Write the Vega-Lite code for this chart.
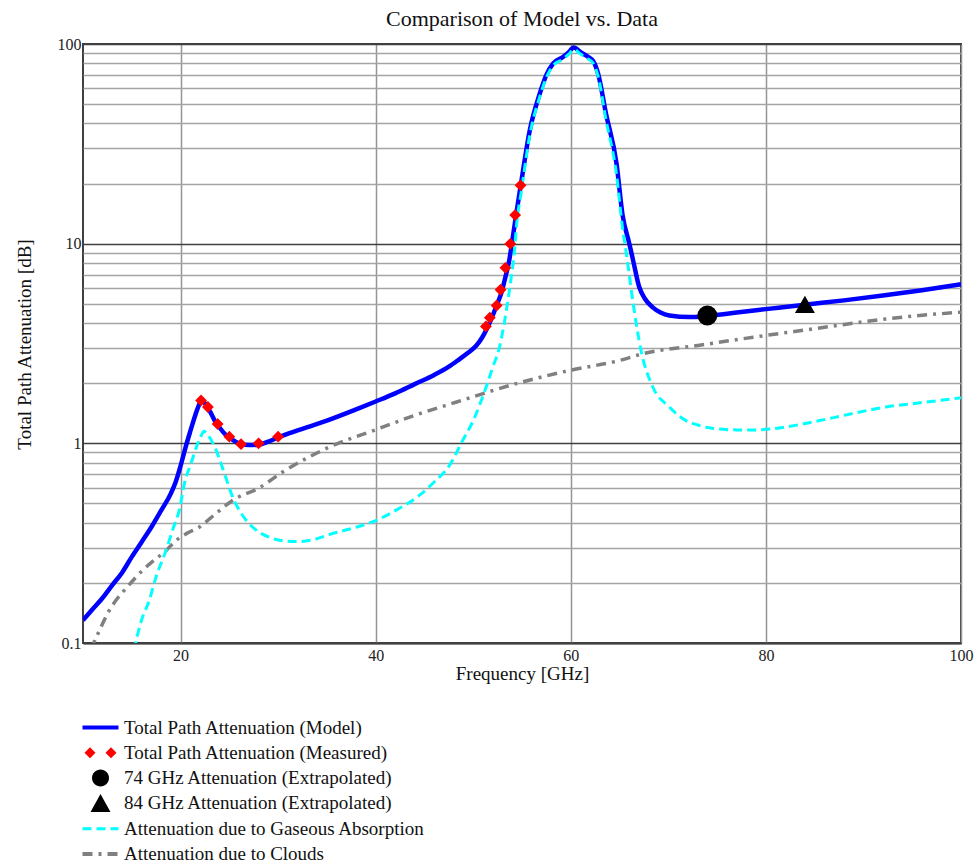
{
  "$schema": "https://vega.github.io/schema/vega-lite/v6.json",
  "width": 878,
  "height": 599,
  "autosize": {"type": "none"},
  "padding": {"left": 83, "top": 44, "right": 17, "bottom": 222},
  "background": "white",
  "title": {"text": "Comparison of Model vs. Data", "font": "Liberation Serif", "fontSize": 22, "fontWeight": "normal", "color": "#111111", "anchor": "middle", "frame": "group", "baseline": "bottom", "offset": 8, "dy": 25},
  "config": {
    "view": {"stroke": "#404040", "strokeWidth": 2},
    "axis": {"labelFont": "Liberation Serif", "labelFontSize": 16, "labelColor": "#222222", "titleFont": "Liberation Serif", "titleFontSize": 19, "titleFontWeight": "normal", "titleColor": "#111111", "ticks": false}
  },
  "data": {"values": [
    {"series": "Total Path Attenuation (Model)", "freq": 10, "atten": 0.13},
    {"series": "Total Path Attenuation (Model)", "freq": 11, "atten": 0.148},
    {"series": "Total Path Attenuation (Model)", "freq": 12, "atten": 0.168},
    {"series": "Total Path Attenuation (Model)", "freq": 13, "atten": 0.195},
    {"series": "Total Path Attenuation (Model)", "freq": 14, "atten": 0.225},
    {"series": "Total Path Attenuation (Model)", "freq": 15, "atten": 0.27},
    {"series": "Total Path Attenuation (Model)", "freq": 16, "atten": 0.32},
    {"series": "Total Path Attenuation (Model)", "freq": 17, "atten": 0.38},
    {"series": "Total Path Attenuation (Model)", "freq": 18, "atten": 0.46},
    {"series": "Total Path Attenuation (Model)", "freq": 19, "atten": 0.56},
    {"series": "Total Path Attenuation (Model)", "freq": 19.5, "atten": 0.64},
    {"series": "Total Path Attenuation (Model)", "freq": 20, "atten": 0.77},
    {"series": "Total Path Attenuation (Model)", "freq": 20.5, "atten": 0.95},
    {"series": "Total Path Attenuation (Model)", "freq": 21, "atten": 1.15},
    {"series": "Total Path Attenuation (Model)", "freq": 21.5, "atten": 1.38},
    {"series": "Total Path Attenuation (Model)", "freq": 22, "atten": 1.6},
    {"series": "Total Path Attenuation (Model)", "freq": 22.2, "atten": 1.65},
    {"series": "Total Path Attenuation (Model)", "freq": 22.6, "atten": 1.56},
    {"series": "Total Path Attenuation (Model)", "freq": 23, "atten": 1.45},
    {"series": "Total Path Attenuation (Model)", "freq": 23.5, "atten": 1.3},
    {"series": "Total Path Attenuation (Model)", "freq": 24, "atten": 1.2},
    {"series": "Total Path Attenuation (Model)", "freq": 24.5, "atten": 1.12},
    {"series": "Total Path Attenuation (Model)", "freq": 25, "atten": 1.07},
    {"series": "Total Path Attenuation (Model)", "freq": 26, "atten": 1.0},
    {"series": "Total Path Attenuation (Model)", "freq": 27, "atten": 0.98},
    {"series": "Total Path Attenuation (Model)", "freq": 28, "atten": 0.985},
    {"series": "Total Path Attenuation (Model)", "freq": 29, "atten": 1.02},
    {"series": "Total Path Attenuation (Model)", "freq": 30, "atten": 1.07},
    {"series": "Total Path Attenuation (Model)", "freq": 32, "atten": 1.16},
    {"series": "Total Path Attenuation (Model)", "freq": 35, "atten": 1.3},
    {"series": "Total Path Attenuation (Model)", "freq": 38, "atten": 1.48},
    {"series": "Total Path Attenuation (Model)", "freq": 40, "atten": 1.62},
    {"series": "Total Path Attenuation (Model)", "freq": 42, "atten": 1.78},
    {"series": "Total Path Attenuation (Model)", "freq": 44, "atten": 1.98},
    {"series": "Total Path Attenuation (Model)", "freq": 46, "atten": 2.2},
    {"series": "Total Path Attenuation (Model)", "freq": 47.5, "atten": 2.42},
    {"series": "Total Path Attenuation (Model)", "freq": 48.5, "atten": 2.62},
    {"series": "Total Path Attenuation (Model)", "freq": 49.5, "atten": 2.85},
    {"series": "Total Path Attenuation (Model)", "freq": 50.3, "atten": 3.08},
    {"series": "Total Path Attenuation (Model)", "freq": 50.9, "atten": 3.38},
    {"series": "Total Path Attenuation (Model)", "freq": 51.4, "atten": 3.75},
    {"series": "Total Path Attenuation (Model)", "freq": 51.9, "atten": 4.25},
    {"series": "Total Path Attenuation (Model)", "freq": 52.4, "atten": 4.9},
    {"series": "Total Path Attenuation (Model)", "freq": 52.9, "atten": 5.7},
    {"series": "Total Path Attenuation (Model)", "freq": 53.3, "atten": 6.8},
    {"series": "Total Path Attenuation (Model)", "freq": 53.7, "atten": 8.3},
    {"series": "Total Path Attenuation (Model)", "freq": 54.0, "atten": 10.3},
    {"series": "Total Path Attenuation (Model)", "freq": 54.4, "atten": 14},
    {"series": "Total Path Attenuation (Model)", "freq": 54.9, "atten": 20},
    {"series": "Total Path Attenuation (Model)", "freq": 55.8, "atten": 37},
    {"series": "Total Path Attenuation (Model)", "freq": 56.8, "atten": 56},
    {"series": "Total Path Attenuation (Model)", "freq": 57.5, "atten": 70},
    {"series": "Total Path Attenuation (Model)", "freq": 58.2, "atten": 80},
    {"series": "Total Path Attenuation (Model)", "freq": 59.2, "atten": 86},
    {"series": "Total Path Attenuation (Model)", "freq": 59.8, "atten": 91},
    {"series": "Total Path Attenuation (Model)", "freq": 60.3, "atten": 96},
    {"series": "Total Path Attenuation (Model)", "freq": 61, "atten": 91},
    {"series": "Total Path Attenuation (Model)", "freq": 61.8, "atten": 86},
    {"series": "Total Path Attenuation (Model)", "freq": 62.3, "atten": 82},
    {"series": "Total Path Attenuation (Model)", "freq": 62.8, "atten": 71},
    {"series": "Total Path Attenuation (Model)", "freq": 63.6, "atten": 45},
    {"series": "Total Path Attenuation (Model)", "freq": 64.7, "atten": 25},
    {"series": "Total Path Attenuation (Model)", "freq": 65.3, "atten": 14},
    {"series": "Total Path Attenuation (Model)", "freq": 66.0, "atten": 10},
    {"series": "Total Path Attenuation (Model)", "freq": 66.4, "atten": 8.2},
    {"series": "Total Path Attenuation (Model)", "freq": 67.0, "atten": 6.1},
    {"series": "Total Path Attenuation (Model)", "freq": 67.6, "atten": 5.3},
    {"series": "Total Path Attenuation (Model)", "freq": 68.4, "atten": 4.8},
    {"series": "Total Path Attenuation (Model)", "freq": 69.2, "atten": 4.52},
    {"series": "Total Path Attenuation (Model)", "freq": 70.1, "atten": 4.37},
    {"series": "Total Path Attenuation (Model)", "freq": 72.2, "atten": 4.29},
    {"series": "Total Path Attenuation (Model)", "freq": 74, "atten": 4.35},
    {"series": "Total Path Attenuation (Model)", "freq": 77, "atten": 4.52},
    {"series": "Total Path Attenuation (Model)", "freq": 80, "atten": 4.7},
    {"series": "Total Path Attenuation (Model)", "freq": 84, "atten": 4.95},
    {"series": "Total Path Attenuation (Model)", "freq": 88, "atten": 5.2},
    {"series": "Total Path Attenuation (Model)", "freq": 92, "atten": 5.5},
    {"series": "Total Path Attenuation (Model)", "freq": 96, "atten": 5.85},
    {"series": "Total Path Attenuation (Model)", "freq": 100, "atten": 6.26},

    {"series": "Total Path Attenuation (Measured)", "freq": 22.1, "atten": 1.64},
    {"series": "Total Path Attenuation (Measured)", "freq": 22.8, "atten": 1.52},
    {"series": "Total Path Attenuation (Measured)", "freq": 23.8, "atten": 1.25},
    {"series": "Total Path Attenuation (Measured)", "freq": 25.0, "atten": 1.08},
    {"series": "Total Path Attenuation (Measured)", "freq": 26.2, "atten": 0.99},
    {"series": "Total Path Attenuation (Measured)", "freq": 28.0, "atten": 1.0},
    {"series": "Total Path Attenuation (Measured)", "freq": 30.0, "atten": 1.08},
    {"series": "Total Path Attenuation (Measured)", "freq": 51.3, "atten": 3.85},
    {"series": "Total Path Attenuation (Measured)", "freq": 51.7, "atten": 4.26},
    {"series": "Total Path Attenuation (Measured)", "freq": 52.4, "atten": 4.9},
    {"series": "Total Path Attenuation (Measured)", "freq": 52.8, "atten": 5.88},
    {"series": "Total Path Attenuation (Measured)", "freq": 53.3, "atten": 7.57},
    {"series": "Total Path Attenuation (Measured)", "freq": 53.8, "atten": 9.98},
    {"series": "Total Path Attenuation (Measured)", "freq": 54.3, "atten": 13.9},
    {"series": "Total Path Attenuation (Measured)", "freq": 54.85, "atten": 19.6},

    {"series": "74 GHz Attenuation (Extrapolated)", "freq": 74, "atten": 4.37},
    {"series": "84 GHz Attenuation (Extrapolated)", "freq": 84, "atten": 4.97},

    {"series": "Attenuation due to Gaseous Absorption", "freq": 15.2, "atten": 0.092},
    {"series": "Attenuation due to Gaseous Absorption", "freq": 16, "atten": 0.13},
    {"series": "Attenuation due to Gaseous Absorption", "freq": 16.8, "atten": 0.164},
    {"series": "Attenuation due to Gaseous Absorption", "freq": 17.5, "atten": 0.215},
    {"series": "Attenuation due to Gaseous Absorption", "freq": 18.5, "atten": 0.29},
    {"series": "Attenuation due to Gaseous Absorption", "freq": 19.2, "atten": 0.37},
    {"series": "Attenuation due to Gaseous Absorption", "freq": 19.9, "atten": 0.47},
    {"series": "Attenuation due to Gaseous Absorption", "freq": 20.4, "atten": 0.63},
    {"series": "Attenuation due to Gaseous Absorption", "freq": 21.1, "atten": 0.8},
    {"series": "Attenuation due to Gaseous Absorption", "freq": 21.6, "atten": 0.95},
    {"series": "Attenuation due to Gaseous Absorption", "freq": 22.0, "atten": 1.06},
    {"series": "Attenuation due to Gaseous Absorption", "freq": 22.4, "atten": 1.15},
    {"series": "Attenuation due to Gaseous Absorption", "freq": 22.8, "atten": 1.1},
    {"series": "Attenuation due to Gaseous Absorption", "freq": 23.5, "atten": 0.96},
    {"series": "Attenuation due to Gaseous Absorption", "freq": 24.2, "atten": 0.78},
    {"series": "Attenuation due to Gaseous Absorption", "freq": 24.7, "atten": 0.66},
    {"series": "Attenuation due to Gaseous Absorption", "freq": 25.4, "atten": 0.53},
    {"series": "Attenuation due to Gaseous Absorption", "freq": 26.3, "atten": 0.44},
    {"series": "Attenuation due to Gaseous Absorption", "freq": 27.4, "atten": 0.38},
    {"series": "Attenuation due to Gaseous Absorption", "freq": 29, "atten": 0.34},
    {"series": "Attenuation due to Gaseous Absorption", "freq": 30.5, "atten": 0.325},
    {"series": "Attenuation due to Gaseous Absorption", "freq": 32, "atten": 0.322},
    {"series": "Attenuation due to Gaseous Absorption", "freq": 33.9, "atten": 0.332},
    {"series": "Attenuation due to Gaseous Absorption", "freq": 35.3, "atten": 0.35},
    {"series": "Attenuation due to Gaseous Absorption", "freq": 38, "atten": 0.38},
    {"series": "Attenuation due to Gaseous Absorption", "freq": 40, "atten": 0.41},
    {"series": "Attenuation due to Gaseous Absorption", "freq": 42, "atten": 0.46},
    {"series": "Attenuation due to Gaseous Absorption", "freq": 44.5, "atten": 0.55},
    {"series": "Attenuation due to Gaseous Absorption", "freq": 46, "atten": 0.64},
    {"series": "Attenuation due to Gaseous Absorption", "freq": 47.6, "atten": 0.78},
    {"series": "Attenuation due to Gaseous Absorption", "freq": 48.9, "atten": 1.03},
    {"series": "Attenuation due to Gaseous Absorption", "freq": 50.0, "atten": 1.3},
    {"series": "Attenuation due to Gaseous Absorption", "freq": 51.3, "atten": 1.9},
    {"series": "Attenuation due to Gaseous Absorption", "freq": 52.0, "atten": 2.4},
    {"series": "Attenuation due to Gaseous Absorption", "freq": 52.7, "atten": 3.04},
    {"series": "Attenuation due to Gaseous Absorption", "freq": 53.1, "atten": 3.8},
    {"series": "Attenuation due to Gaseous Absorption", "freq": 53.5, "atten": 5.0},
    {"series": "Attenuation due to Gaseous Absorption", "freq": 53.9, "atten": 6.8},
    {"series": "Attenuation due to Gaseous Absorption", "freq": 54.2, "atten": 8.9},
    {"series": "Attenuation due to Gaseous Absorption", "freq": 54.45, "atten": 12.5},
    {"series": "Attenuation due to Gaseous Absorption", "freq": 54.95, "atten": 18.5},
    {"series": "Attenuation due to Gaseous Absorption", "freq": 55.8, "atten": 35},
    {"series": "Attenuation due to Gaseous Absorption", "freq": 56.8, "atten": 54},
    {"series": "Attenuation due to Gaseous Absorption", "freq": 57.5, "atten": 68},
    {"series": "Attenuation due to Gaseous Absorption", "freq": 58.2, "atten": 78},
    {"series": "Attenuation due to Gaseous Absorption", "freq": 59.2, "atten": 84},
    {"series": "Attenuation due to Gaseous Absorption", "freq": 59.8, "atten": 89},
    {"series": "Attenuation due to Gaseous Absorption", "freq": 60.3, "atten": 94},
    {"series": "Attenuation due to Gaseous Absorption", "freq": 61, "atten": 89},
    {"series": "Attenuation due to Gaseous Absorption", "freq": 61.8, "atten": 84},
    {"series": "Attenuation due to Gaseous Absorption", "freq": 62.3, "atten": 80},
    {"series": "Attenuation due to Gaseous Absorption", "freq": 62.8, "atten": 69},
    {"series": "Attenuation due to Gaseous Absorption", "freq": 63.6, "atten": 42},
    {"series": "Attenuation due to Gaseous Absorption", "freq": 64.7, "atten": 22},
    {"series": "Attenuation due to Gaseous Absorption", "freq": 65.3, "atten": 12},
    {"series": "Attenuation due to Gaseous Absorption", "freq": 65.7, "atten": 8.9},
    {"series": "Attenuation due to Gaseous Absorption", "freq": 66.4, "atten": 5.0},
    {"series": "Attenuation due to Gaseous Absorption", "freq": 67.2, "atten": 2.92},
    {"series": "Attenuation due to Gaseous Absorption", "freq": 68.4, "atten": 1.92},
    {"series": "Attenuation due to Gaseous Absorption", "freq": 70.1, "atten": 1.52},
    {"series": "Attenuation due to Gaseous Absorption", "freq": 71.8, "atten": 1.3},
    {"series": "Attenuation due to Gaseous Absorption", "freq": 72.9, "atten": 1.24},
    {"series": "Attenuation due to Gaseous Absorption", "freq": 74, "atten": 1.2},
    {"series": "Attenuation due to Gaseous Absorption", "freq": 76.3, "atten": 1.17},
    {"series": "Attenuation due to Gaseous Absorption", "freq": 78, "atten": 1.165},
    {"series": "Attenuation due to Gaseous Absorption", "freq": 80.4, "atten": 1.18},
    {"series": "Attenuation due to Gaseous Absorption", "freq": 83, "atten": 1.23},
    {"series": "Attenuation due to Gaseous Absorption", "freq": 85.5, "atten": 1.3},
    {"series": "Attenuation due to Gaseous Absorption", "freq": 88, "atten": 1.38},
    {"series": "Attenuation due to Gaseous Absorption", "freq": 92.3, "atten": 1.52},
    {"series": "Attenuation due to Gaseous Absorption", "freq": 96, "atten": 1.6},
    {"series": "Attenuation due to Gaseous Absorption", "freq": 100, "atten": 1.69},

    {"series": "Attenuation due to Clouds", "freq": 10.8, "atten": 0.093},
    {"series": "Attenuation due to Clouds", "freq": 11.7, "atten": 0.116},
    {"series": "Attenuation due to Clouds", "freq": 12.5, "atten": 0.14},
    {"series": "Attenuation due to Clouds", "freq": 13.4, "atten": 0.164},
    {"series": "Attenuation due to Clouds", "freq": 14.5, "atten": 0.19},
    {"series": "Attenuation due to Clouds", "freq": 16.1, "atten": 0.231},
    {"series": "Attenuation due to Clouds", "freq": 17.3, "atten": 0.26},
    {"series": "Attenuation due to Clouds", "freq": 18.5, "atten": 0.29},
    {"series": "Attenuation due to Clouds", "freq": 19.5, "atten": 0.325},
    {"series": "Attenuation due to Clouds", "freq": 20.6, "atten": 0.353},
    {"series": "Attenuation due to Clouds", "freq": 21.9, "atten": 0.38},
    {"series": "Attenuation due to Clouds", "freq": 23.5, "atten": 0.44},
    {"series": "Attenuation due to Clouds", "freq": 25.4, "atten": 0.52},
    {"series": "Attenuation due to Clouds", "freq": 28.1, "atten": 0.6},
    {"series": "Attenuation due to Clouds", "freq": 30.5, "atten": 0.72},
    {"series": "Attenuation due to Clouds", "freq": 35.3, "atten": 0.96},
    {"series": "Attenuation due to Clouds", "freq": 40, "atten": 1.17},
    {"series": "Attenuation due to Clouds", "freq": 44, "atten": 1.38},
    {"series": "Attenuation due to Clouds", "freq": 48.3, "atten": 1.61},
    {"series": "Attenuation due to Clouds", "freq": 54.4, "atten": 1.99},
    {"series": "Attenuation due to Clouds", "freq": 59.9, "atten": 2.32},
    {"series": "Attenuation due to Clouds", "freq": 65, "atten": 2.6},
    {"series": "Attenuation due to Clouds", "freq": 67.4, "atten": 2.81},
    {"series": "Attenuation due to Clouds", "freq": 73.2, "atten": 3.1},
    {"series": "Attenuation due to Clouds", "freq": 78.7, "atten": 3.4},
    {"series": "Attenuation due to Clouds", "freq": 85, "atten": 3.75},
    {"series": "Attenuation due to Clouds", "freq": 92.3, "atten": 4.2},
    {"series": "Attenuation due to Clouds", "freq": 100, "atten": 4.54}
  ]},
  "encoding": {
    "x": {"field": "freq", "type": "quantitative", "title": "Frequency [GHz]",
      "scale": {"domain": [10, 100], "nice": false, "zero": false},
      "axis": {"values": [20, 40, 60, 80, 100], "grid": true, "gridColor": "#959595", "gridWidth": 1.5, "domain": true, "domainColor": "#404040", "domainWidth": 2, "labelPadding": 4, "labelFontSize": 16, "labelFlush": false, "labelOverlap": false, "titleY": 36, "titleBaseline": "alphabetic"}},
    "y": {"field": "atten", "type": "quantitative", "title": "Total Path Attenuation [dB]",
      "scale": {"type": "log", "domain": [0.1, 100], "nice": false},
      "axis": {"values": [0.1, 0.2, 0.3, 0.4, 0.5, 0.6, 0.7, 0.8, 0.9, 1, 2, 3, 4, 5, 6, 7, 8, 9, 10, 20, 30, 40, 50, 60, 70, 80, 90, 100],
        "grid": true, "gridWidth": 1.5,
        "gridColor": {"condition": {"test": "datum.value === 0.1 || datum.value === 1 || datum.value === 10 || datum.value === 100", "value": "#404040"}, "value": "#a5a5a5"},
        "labelExpr": "(datum.value === 0.1 || datum.value === 1 || datum.value === 10 || datum.value === 100) ? format(datum.value, '~g') : ''",
        "domain": false, "labelPadding": 2, "labelFontSize": 16, "labelOverlap": false, "labelFlush": false,
        "titleX": -59, "titleY": 300, "titleAngle": -90, "titleAlign": "center", "titleBaseline": "middle"}},
    "color": {"field": "series", "type": "nominal",
      "scale": {"domain": ["Total Path Attenuation (Model)", "Total Path Attenuation (Measured)", "74 GHz Attenuation (Extrapolated)", "84 GHz Attenuation (Extrapolated)", "Attenuation due to Gaseous Absorption", "Attenuation due to Clouds"],
        "range": ["#0000ff", "#ff0000", "#000000", "#000000", "#00ffff", "#808080"]},
      "legend": {"orient": "none", "legendX": 8, "legendY": 674, "title": null, "direction": "vertical",
        "symbolSize": 400, "labelFont": "Liberation Serif", "labelFontSize": 19, "labelColor": "#111111", "labelOffset": 14, "labelLimit": 600, "rowPadding": 5.3,
        "encode": {"symbols": {"update": {
          "shape": {"signal": "datum.value === 'Total Path Attenuation (Measured)' ? 'M-1.6,0L-1.05,-0.55L-0.5,0L-1.05,0.55ZM0.5,0L1.05,-0.55L1.6,0L1.05,0.55Z' : datum.value === '74 GHz Attenuation (Extrapolated)' ? 'M-0.85,0A0.85,0.85,0,1,1,0.85,0A0.85,0.85,0,1,1,-0.85,0Z' : datum.value === '84 GHz Attenuation (Extrapolated)' ? 'M0,-0.95L1,0.85L-1,0.85Z' : 'M-1.8,0H1.8'"},
          "size": {"value": 400},
          "fill": {"signal": "datum.value === 'Total Path Attenuation (Measured)' ? '#ff0000' : (datum.value === '74 GHz Attenuation (Extrapolated)' || datum.value === '84 GHz Attenuation (Extrapolated)') ? '#000000' : 'transparent'"},
          "stroke": {"signal": "datum.value === 'Total Path Attenuation (Model)' ? '#0000ff' : datum.value === 'Attenuation due to Gaseous Absorption' ? '#00ffff' : datum.value === 'Attenuation due to Clouds' ? '#808080' : 'transparent'"},
          "strokeWidth": {"signal": "datum.value === 'Total Path Attenuation (Model)' ? 4 : datum.value === 'Attenuation due to Clouds' ? 4 : datum.value === 'Attenuation due to Gaseous Absorption' ? 3 : 0"},
          "strokeDash": {"signal": "datum.value === 'Attenuation due to Gaseous Absorption' ? [9, 5] : datum.value === 'Attenuation due to Clouds' ? [10, 6, 3, 6] : []"},
          "opacity": {"value": 1}
        }}}}
    }
  },
  "layer": [
    {"transform": [{"filter": "datum.series === 'Attenuation due to Clouds'"}],
     "mark": {"type": "line", "strokeWidth": 3.5, "strokeDash": [10, 6, 3, 6], "clip": true, "interpolate": "monotone"}},
    {"transform": [{"filter": "datum.series === 'Total Path Attenuation (Model)'"}],
     "mark": {"type": "line", "strokeWidth": 4.5, "clip": true, "interpolate": "monotone"}},
    {"transform": [{"filter": "datum.series === 'Attenuation due to Gaseous Absorption'"}],
     "mark": {"type": "line", "strokeWidth": 3, "strokeDash": [9, 5], "clip": true, "interpolate": "monotone"}},
    {"transform": [{"filter": "datum.series === 'Total Path Attenuation (Measured)'"}],
     "mark": {"type": "point", "shape": "diamond", "filled": true, "size": 140, "opacity": 1}},
    {"transform": [{"filter": "datum.series === '74 GHz Attenuation (Extrapolated)'"}],
     "mark": {"type": "point", "shape": "circle", "filled": true, "size": 400, "opacity": 1}},
    {"transform": [{"filter": "datum.series === '84 GHz Attenuation (Extrapolated)'"}],
     "mark": {"type": "point", "shape": "triangle-up", "filled": true, "size": 400, "opacity": 1}}
  ]
}
